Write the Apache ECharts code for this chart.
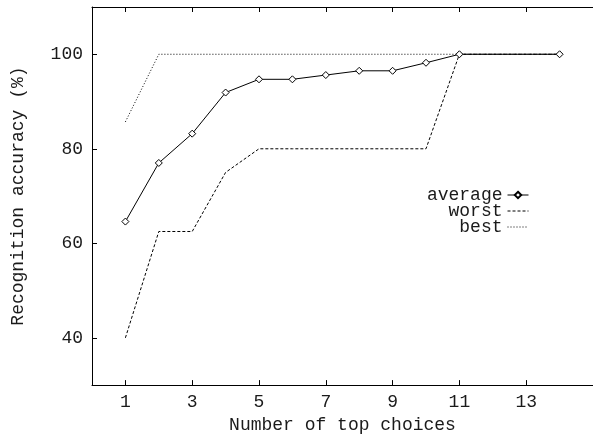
<!DOCTYPE html>
<html>
<head>
<meta charset="utf-8">
<title>Recognition accuracy</title>
<script src="https://cdn.jsdelivr.net/npm/echarts@6/dist/echarts.min.js"></script>
<style>
  html, body { margin: 0; padding: 0; background: #fff; }
  #main { width: 593px; height: 439px; }
</style>
</head>
<body>
<div id="main"></div>
<script>
// number of top choices
var xs = [1, 2, 3, 4, 5, 6, 7, 8, 9, 10, 11, 14];
var average = [64.6, 77.0, 83.2, 91.9, 94.7, 94.7, 95.6, 96.5, 96.5, 98.2, 100, 100];
var worst   = [40, 62.5, 62.5, 75, 80, 80, 80, 80, 80, 80, 100, 100];
var best    = [85.7, 100, 100, 100, 100, 100, 100, 100, 100, 100, 100, 100];
var xTicks = [1, 3, 5, 7, 9, 11, 13];
var yTicks = [40, 60, 80, 100];

function pairs(ys) {
  return xs.map(function (x, i) { return [x, ys[i]]; });
}

var font = 'Liberation Mono';
var ink = '#1a1a1a';

var chart = echarts.init(document.getElementById('main'));
chart.setOption({
  animation: false,
  grid: { left: 92, top: 7, right: -9, bottom: 48 },
  legend: {
    orient: 'vertical',
    align: 'right',
    right: 59,
    top: 181,
    itemWidth: 21,
    itemHeight: 8,
    itemGap: -2,
    lineStyle: { width: 1 },
    textStyle: { fontFamily: font, fontSize: 18, color: ink, lineHeight: 16 },
    data: [
      { name: 'average' },
      { name: 'worst', itemStyle: { opacity: 0 } },
      { name: 'best', itemStyle: { opacity: 0 } }
    ]
  },
  xAxis: [{
    type: 'value', position: 'bottom', min: 0, max: 15,
    name: 'Number of top choices', nameLocation: 'middle', nameGap: 20,
    nameTextStyle: { fontFamily: font, fontSize: 18, color: ink },
    axisLine: { lineStyle: { color: '#000', width: 1 } },
    axisTick: { inside: true, length: 5, customValues: xTicks, lineStyle: { color: '#000' } },
    axisLabel: { customValues: xTicks, margin: 8, fontFamily: font, fontSize: 18, color: ink },
    splitLine: { show: false }
  }, {
    type: 'value', position: 'top', min: 0, max: 15,
    axisLine: { lineStyle: { color: '#000', width: 1 } },
    axisTick: { inside: true, length: 5, customValues: xTicks, lineStyle: { color: '#000' } },
    axisLabel: { show: false },
    splitLine: { show: false }
  }],
  yAxis: {
    type: 'value', min: 30, max: 110,
    name: 'Recognition accuracy (%)', nameLocation: 'middle', nameGap: 65,
    nameTextStyle: { fontFamily: font, fontSize: 18, color: ink },
    axisLine: { show: true, lineStyle: { color: '#000', width: 1 } },
    axisTick: { show: true, inside: true, length: 5, customValues: yTicks, lineStyle: { color: '#000' } },
    axisLabel: { customValues: yTicks, margin: 9, fontFamily: font, fontSize: 18, color: ink },
    splitLine: { show: false }
  },
  series: [{
    name: 'average', type: 'line', data: pairs(average),
    symbol: 'diamond', symbolSize: 7,
    lineStyle: { color: '#000', width: 1 },
    itemStyle: { color: '#fff', borderColor: '#000', borderWidth: 1 },
    z: 3
  }, {
    name: 'worst', type: 'line', data: pairs(worst),
    symbol: 'none',
    lineStyle: { color: '#000', width: 1, type: [3, 2] },
    itemStyle: { color: '#000' }
  }, {
    name: 'best', type: 'line', data: pairs(best),
    symbol: 'none',
    lineStyle: { color: '#000', width: 1, type: [1, 2] },
    itemStyle: { color: '#000' }
  }]
});
</script>
</body>
</html>
